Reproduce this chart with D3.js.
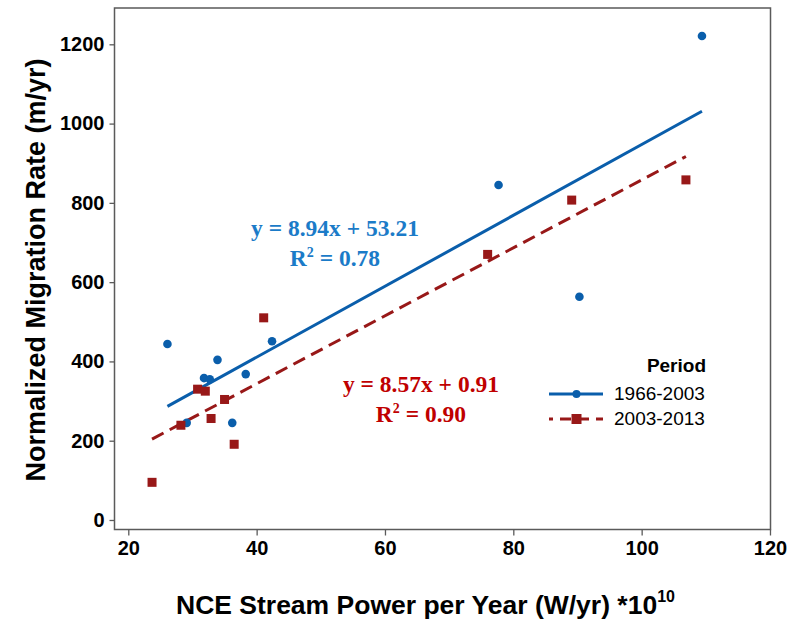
<!DOCTYPE html>
<html>
<head>
<meta charset="utf-8">
<script src="https://cdn.jsdelivr.net/npm/d3@7"></script>
<style>
  html, body { margin: 0; padding: 0; background: #fff; }
  svg { display: block; }
</style>
</head>
<body>
<svg id="chart" width="791" height="620"></svg>
<script>
// ---- data ----
const seriesNames = ["1966-2003", "2003-2013"];
const blueX = [26.1, 29.1, 31.8, 32.7, 33.9, 36.2, 38.3, 42.4, 77.7, 90.3, 109.4];
const blueY = [444, 245, 358, 355, 404, 245, 368, 451, 845, 563, 1221];
const redX = [23.7, 28.2, 30.8, 32.0, 32.9, 35.0, 36.5, 41.1, 76.0, 89.1, 106.9];
const redY = [95, 239, 330, 325, 256, 304, 191, 510, 670, 807, 858];
const slopes = [8.94, 8.57];
const intercepts = [53.21, 0.91];
const r2Labels = ["0.78", "0.90"];
const xTicks = [20, 40, 60, 80, 100, 120];
const yTicks = [0, 200, 400, 600, 800, 1000, 1200];

// ---- layout ----
const svg = d3.select("#chart");
const pL = 114.5, pT = 8, pR = 770.5, pB = 529.5;
const x = d3.scaleLinear().domain([17.85, 120.08]).range([pL, pR]);
const y = d3.scaleLinear().domain([-24, 1291.6]).range([pB, pT]);

const blue = "#0a5eab", red = "#981818";
const blueText = "#1b7bc8", redText = "#c00000";

// frame
svg.append("rect").attr("x", pL).attr("y", pT)
  .attr("width", pR - pL).attr("height", pB - pT)
  .attr("fill", "none").attr("stroke", "#5a5a5a").attr("stroke-width", 1.5);

// axes
const xAxis = svg.append("g").attr("transform", `translate(0,${pB})`)
  .call(d3.axisBottom(x).tickValues(xTicks).tickSize(6).tickPadding(5).tickFormat(d3.format("d")));
const yAxis = svg.append("g").attr("transform", `translate(${pL},0)`)
  .call(d3.axisLeft(y).tickValues(yTicks).tickSize(5).tickPadding(5).tickFormat(d3.format("d")));
[xAxis, yAxis].forEach(g => {
  g.select(".domain").remove();
  g.selectAll(".tick line").attr("stroke", "#5a5a5a").attr("stroke-width", 1.3);
  g.selectAll(".tick text").attr("fill", "#000")
    .style("font-family", "Arial, 'Liberation Sans', sans-serif")
    .style("font-weight", "bold").style("font-size", "20px");
});

// fit lines
const series = [
  {xs: blueX, ys: blueY, color: blue, dash: null},
  {xs: redX, ys: redY, color: red, dash: "13,7"}
];
series.forEach((s, i) => {
  const x0 = d3.min(s.xs), x1 = d3.max(s.xs);
  const pts = [x0, x1].map(v => [x(v), y(slopes[i] * v + intercepts[i])]);
  svg.append("path").attr("d", d3.line()(pts))
    .attr("fill", "none").attr("stroke", s.color).attr("stroke-width", 3)
    .attr("stroke-dasharray", s.dash);
});

// points
svg.append("g").selectAll("circle").data(blueX.map((v, i) => [v, blueY[i]]))
  .join("circle").attr("cx", d => x(d[0])).attr("cy", d => y(d[1]))
  .attr("r", 4.3).attr("fill", blue);
const sq = 9;
svg.append("g").selectAll("rect").data(redX.map((v, i) => [v, redY[i]]))
  .join("rect").attr("x", d => x(d[0]) - sq / 2).attr("y", d => y(d[1]) - sq / 2)
  .attr("width", sq).attr("height", sq).attr("fill", red);

// equations
const eqFont = "'Liberation Serif', 'Times New Roman', serif";
function equation(cx, by, i, color) {
  svg.append("text").attr("x", cx).attr("y", by)
    .attr("text-anchor", "middle").attr("fill", color)
    .style("font-family", eqFont).style("font-weight", "bold").style("font-size", "23.5px")
    .text(`y = ${slopes[i].toFixed(2)}x + ${intercepts[i].toFixed(2)}`);
  const t2 = svg.append("text").attr("x", cx).attr("y", by + 30)
    .attr("text-anchor", "middle").attr("fill", color)
    .style("font-family", eqFont).style("font-weight", "bold").style("font-size", "23.5px");
  t2.append("tspan").text("R");
  t2.append("tspan").attr("dy", -9).style("font-size", "14px").text("2");
  t2.append("tspan").attr("dy", 9).text(` = ${r2Labels[i]}`);
}
equation(335, 236, 0, blueText);
equation(421, 392, 1, redText);

// legend
const lg = svg.append("g").style("font-family", "Arial, 'Liberation Sans', sans-serif");
lg.append("text").attr("x", 706).attr("y", 372).attr("text-anchor", "end")
  .style("font-weight", "bold").style("font-size", "19px").attr("fill", "#000").text("Period");
const legY = [394, 419];
series.forEach((s, i) => {
  lg.append("line").attr("x1", 549).attr("x2", 603).attr("y1", legY[i]).attr("y2", legY[i])
    .attr("stroke", s.color).attr("stroke-width", 3)
    .attr("stroke-dasharray", i === 1 ? "11,7" : null)
    .attr("stroke-dashoffset", i === 1 ? 7 : 0);
  if (i === 0) {
    lg.append("circle").attr("cx", 576.5).attr("cy", legY[i]).attr("r", 4).attr("fill", s.color);
  } else {
    lg.append("rect").attr("x", 576.5 - 5).attr("y", legY[i] - 5).attr("width", 10).attr("height", 10).attr("fill", s.color);
  }
  lg.append("text").attr("x", 614).attr("y", legY[i] + 5.5)
    .style("font-size", "19px").attr("fill", "#000").text(seriesNames[i]);
});

// axis titles
const xl = svg.append("text").attr("x", 176).attr("y", 614)
  .style("font-family", "Arial, 'Liberation Sans', sans-serif")
  .style("font-weight", "bold").style("font-size", "26.5px").attr("fill", "#000");
xl.append("tspan").text("NCE Stream Power per Year (W/yr) *10");
xl.append("tspan").attr("dy", -12).style("font-size", "16px").text("10");

svg.append("text").attr("transform", "translate(45,270) rotate(-90)")
  .attr("text-anchor", "middle")
  .style("font-family", "Arial, 'Liberation Sans', sans-serif")
  .style("font-weight", "bold").style("font-size", "27px").attr("fill", "#000")
  .text("Normalized Migration Rate (m/yr)");
</script>
</body>
</html>
